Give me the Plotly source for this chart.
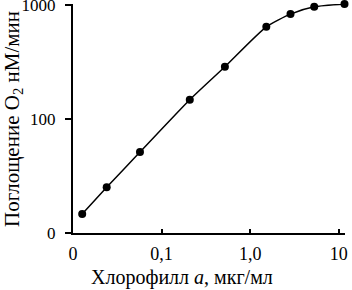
import plotly.graph_objects as go

chlorophyll = [0.0127, 0.024, 0.057, 0.208, 0.518, 1.52, 2.85, 5.28, 11.6]
o2_uptake = [14.7, 25.2, 51.4, 148, 288, 645, 834, 966, 1021]
x_tick_vals = [0.01, 0.1, 1, 10]
x_tick_text = ["0", "0,1", "1,0", "10"]
y_tick_vals = [10, 100, 1000]
y_tick_text = ["0", "100", "1000"]

W, H = 352, 290
L, R, T, B = 73, 7, 4, 57
pw, ph = W - L - R, H - T - B

fig = go.Figure(go.Scatter(
    x=chlorophyll, y=o2_uptake, mode="lines+markers",
    line=dict(color="black", width=1.5, shape="spline", smoothing=0.6),
    marker=dict(color="black", size=8),
    cliponaxis=False,
))
fig.update_layout(
    width=W, height=H, margin=dict(l=L, r=R, t=T, b=B),
    plot_bgcolor="white", paper_bgcolor="white", showlegend=False,
    font=dict(family="Liberation Serif", color="black", size=18),
)
fig.update_xaxes(type="log", range=[-2, 1.07], tickvals=x_tick_vals, ticktext=x_tick_text,
                 showgrid=False, zeroline=False, showline=True, linecolor="black", linewidth=2,
                 ticks="inside", ticklen=4, tickcolor="black", tickwidth=1.5,
                 automargin=False, ticklabelstandoff=3, ticklabeloverflow="allow")
fig.update_yaxes(type="log", range=[1, 3.01], tickvals=y_tick_vals, ticktext=y_tick_text,
                 showgrid=False, zeroline=False, showline=True, linecolor="black", linewidth=2,
                 ticks="outside", ticklen=6, tickcolor="black", tickwidth=1.5,
                 tickfont=dict(size=17),
                 automargin=False, ticklabelstandoff=6, ticklabeloverflow="allow")

fig.add_annotation(text="Хлорофилл <i>a</i>, мкг/мл", xref="paper", yref="paper",
                   x=(182 - L) / pw, y=(H - B - 277) / ph, showarrow=False,
                   xanchor="center", yanchor="middle", font=dict(size=20))
fig.add_annotation(text="Поглощение O<sub>2</sub> нМ/мин", xref="paper", yref="paper",
                   x=(13 - L) / pw, y=(H - B - 119) / ph, showarrow=False, textangle=-90,
                   xanchor="center", yanchor="middle", font=dict(size=21))

fig.write_html("out.html", config={"displayModeBar": False},
               post_script="document.body.style.margin='0';document.body.style.padding='0';")
